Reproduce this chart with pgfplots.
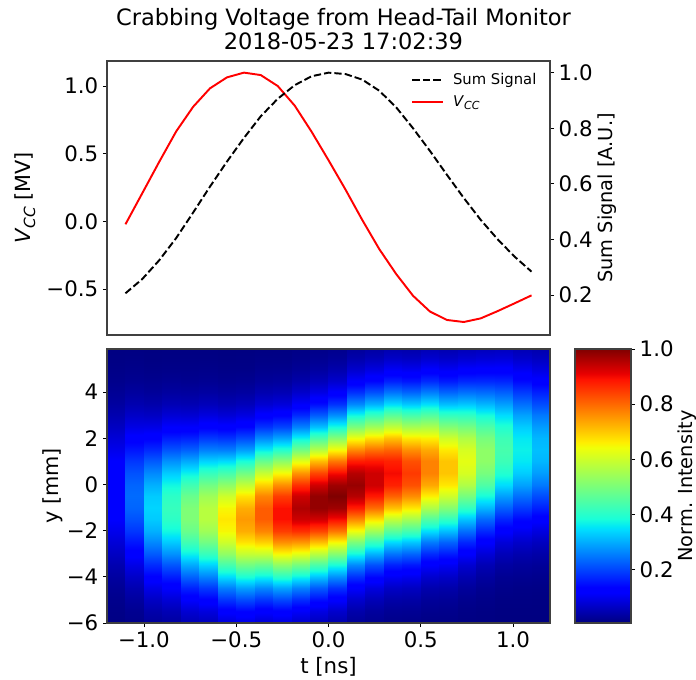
\documentclass[border=0pt]{standalone}
\usepackage{fontspec}
\setmainfont{DejaVu Sans}
\usepackage{pgfplots}
\pgfplotsset{compat=1.18}
\pgfplotsset{colormap={mjet}{rgb(0pt)=(0,0,.5); rgb(11pt)=(0,0,1); rgb(13pt)=(0,0,1); rgb(34pt)=(0,.86,1); rgb(35pt)=(0,.9,.97); rgb(38pt)=(.1,1,.85); rgb(64pt)=(.94,1,.03); rgb(66pt)=(1,.93,0); rgb(89pt)=(1,.07,0); rgb(91pt)=(.91,0,0); rgb(100pt)=(.5,0,0)}}
\newcommand\heatcol[3]{%
  \gdef\crd{}%
  \foreach \v [count=\k from 0] in {#3} {%
    \pgfmathsetmacro\yy{-6+0.5*\k}%
    \xdef\crd{\crd (#1,\yy) [\v] (#2,\yy) [\v] }%
  }%
  \edef\tmp{\noexpand\addplot[surf,shader=interp,mesh/cols=2,point meta=explicit,forget plot] coordinates {\crd};}\tmp
}
\newcommand\Vcc[1]{\textit{V}\raisebox{-0.22em}{\fontsize{#1}{#1}\selectfont\textit{CC}}}
\pgfplotsset{common/.style={scale only axis,width=332.25pt,height=205.5pt,
  tick style={black,line width=.6pt},major tick length=3pt,axis line style={black!75,line width=.8pt},
  every tick label/.append style={font=\fontsize{16}{18}\selectfont},
  xlabel style={font=\fontsize{16}{18}\selectfont},clip=true,
  tick align=outside}}
\begin{document}
\begin{tikzpicture}
\path[use as bounding box] (0,0) rectangle (522pt,509.25pt);
\node[align=center,font=\fontsize{16.9}{18}\selectfont] at (257.6pt,487.5pt) {Crabbing Voltage from Head-Tail Monitor\\2018-05-23 17:02:39};
% top axis, left scale
\begin{axis}[common,at={(80.25pt,258pt)},anchor=south west,
  xmin=-1.2,xmax=1.2,ymin=-0.84,ymax=1.185,xtick=\empty,
  ytick={-0.5,0,0.5,1},yticklabels={−0.5,0.0,0.5,1.0},ytick pos=left,
  ylabel={\Vcc{11.5} [MV]},
  every axis y label/.style={at={(axis description cs:-0.185,0.5)},rotate=90,anchor=center,font=\fontsize{15.6}{16}\selectfont}]
\addplot[red,line width=1.45pt] coordinates {
(-1.1,-0.022) (-1.008,0.21) (-0.917,0.44) (-0.825,0.665) (-0.733,0.847) (-0.642,0.983) (-0.55,1.064) (-0.458,1.099) (-0.367,1.081) (-0.275,1.0) (-0.183,0.855) (-0.092,0.663) (0,0.452) (0.092,0.235) (0.183,0.010) (0.275,-0.205) (0.367,-0.39) (0.458,-0.55) (0.55,-0.667) (0.642,-0.729) (0.733,-0.744) (0.825,-0.717) (0.917,-0.663) (1.008,-0.606) (1.1,-0.547)};
\end{axis}
% top axis, right scale
\begin{axis}[common,at={(80.25pt,258pt)},anchor=south west,
  xmin=-1.2,xmax=1.2,ymin=0.056,ymax=1.042,xtick=\empty,
  ytick={0.2,0.4,0.6,0.8,1},yticklabels={0.2,0.4,0.6,0.8,1.0},ytick pos=right,yticklabel pos=right,
  ylabel={Sum Signal [A.U.]},
  every axis y label/.style={at={(axis description cs:1.128,0.5)},rotate=90,anchor=center,font=\fontsize{14.5}{15}\selectfont},
  legend style={draw=none,fill=none,at={(0.985,0.975)},anchor=north east,font=\fontsize{11.1}{13}\selectfont,row sep=2.4pt,
    /tikz/every odd column/.append style={column sep=4.5pt}},
  legend image code/.code={\draw[#1] (0pt,0pt) -- (23.25pt,0pt);},
  legend cell align=left]
\addplot[black,line width=1.45pt,dash pattern=on 5.5pt off 2.3pt] coordinates {
(-1.1,0.206) (-1.008,0.258) (-0.917,0.325) (-0.825,0.405) (-0.733,0.497) (-0.642,0.590) (-0.55,0.680) (-0.458,0.765) (-0.367,0.843) (-0.275,0.906) (-0.183,0.955) (-0.092,0.987) (0,1.0) (0.092,0.995) (0.183,0.975) (0.275,0.935) (0.367,0.875) (0.458,0.8) (0.55,0.718) (0.642,0.632) (0.733,0.549) (0.825,0.470) (0.917,0.4) (1.008,0.338) (1.1,0.284)};
\addlegendentry{Sum Signal}
\addlegendimage{red,line width=1.45pt}
\addlegendentry{\Vcc{8.3}}
\end{axis}
% heat map
\begin{axis}[common,at={(80.25pt,42pt)},anchor=south west,colormap name=mjet,
  point meta min=0.01,point meta max=1,
  xmin=-1.2,xmax=1.2,ymin=-6,ymax=5.87,
  xtick={-1,-0.5,0,0.5,1},xticklabels={−1.0,−0.5,0.0,0.5,1.0},
  ytick={-6,-4,-2,0,2,4},yticklabels={−6,−4,−2,0,2,4},ytick pos=left,xtick pos=bottom,
  xlabel={t [ns]},ylabel={y [mm]},
  every axis y label/.style={at={(axis description cs:-0.122,0.5)},rotate=90,anchor=center,font=\fontsize{15.6}{16}\selectfont},
  axis on top]
\heatcol{-1.2}{-1.1}{.014,.017,.021,.028,.038,.051,.067,.085,.103,.120,.132,.139,.139,.132,.120,.103,.085,.067,.051,.038,.028,.021,.017,.014,.012}
\heatcol{-1.1}{-1.0}{.019,.025,.036,.051,.071,.097,.127,.159,.190,.216,.234,.240,.234,.216,.190,.159,.127,.097,.071,.051,.036,.025,.019,.015,.012}
\heatcol{-1.0}{-0.9}{.032,.047,.068,.098,.135,.178,.224,.269,.306,.331,.340,.331,.306,.269,.224,.178,.135,.098,.068,.047,.032,.023,.017,.013,.012}
\heatcol{-0.9}{-0.8}{.037,.056,.083,.119,.165,.219,.276,.331,.378,.409,.420,.409,.378,.331,.276,.219,.165,.119,.083,.056,.037,.026,.018,.014,.012}
\heatcol{-0.8}{-0.7}{.054,.081,.119,.170,.231,.299,.369,.433,.481,.507,.507,.481,.433,.369,.299,.231,.170,.119,.081,.054,.036,.024,.018,.014,.012}
\heatcol{-0.7}{-0.6}{.060,.091,.134,.192,.261,.339,.419,.492,.546,.576,.576,.546,.492,.419,.339,.261,.192,.134,.091,.060,.039,.026,.019,.014,.012}
\heatcol{-0.6}{-0.5}{.084,.127,.186,.259,.346,.438,.527,.602,.652,.670,.652,.602,.527,.438,.346,.259,.186,.127,.084,.054,.035,.023,.017,.013,.011}
\heatcol{-0.5}{-0.4}{.093,.141,.207,.290,.387,.490,.590,.674,.730,.750,.730,.674,.590,.490,.387,.290,.207,.141,.093,.060,.038,.025,.017,.014,.011}
\heatcol{-0.4}{-0.3}{.080,.125,.187,.268,.367,.478,.592,.694,.772,.814,.814,.772,.694,.592,.478,.367,.268,.187,.125,.080,.051,.033,.022,.016,.012}
\heatcol{-0.3}{-0.2}{.087,.136,.204,.294,.402,.524,.649,.762,.847,.894,.894,.847,.762,.649,.524,.402,.294,.204,.136,.087,.055,.035,.023,.016,.013}
\heatcol{-0.2}{-0.1}{.074,.116,.178,.263,.369,.494,.627,.755,.862,.934,.960,.934,.862,.755,.627,.494,.369,.263,.178,.116,.074,.046,.029,.020,.015}
\heatcol{-0.1}{0.0}{.060,.095,.149,.224,.323,.442,.576,.714,.838,.932,.983,.983,.932,.838,.714,.576,.442,.323,.224,.149,.095,.060,.037,.025,.017}
\heatcol{0.0}{0.1}{.048,.076,.121,.185,.273,.384,.514,.653,.786,.898,.973,1.0,.973,.898,.786,.653,.514,.384,.273,.185,.121,.076,.048,.030,.020}
\heatcol{0.1}{0.2}{.029,.047,.075,.119,.182,.268,.377,.504,.640,.770,.880,.954,.980,.954,.880,.770,.640,.504,.377,.268,.182,.119,.075,.047,.029}
\heatcol{0.2}{0.3}{.024,.036,.057,.091,.142,.213,.307,.420,.548,.678,.796,.885,.933,.933,.885,.796,.678,.548,.420,.307,.213,.142,.091,.057,.036}
\heatcol{0.3}{0.4}{.019,.028,.044,.070,.110,.168,.247,.346,.463,.588,.708,.808,.876,.900,.876,.808,.708,.588,.463,.346,.247,.168,.110,.070,.044}
\heatcol{0.4}{0.5}{.018,.027,.042,.066,.104,.159,.233,.328,.438,.555,.669,.763,.827,.850,.827,.763,.669,.555,.438,.328,.233,.159,.104,.066,.042}
\heatcol{0.5}{0.6}{.015,.022,.032,.049,.077,.119,.178,.256,.350,.455,.563,.661,.735,.775,.775,.735,.661,.563,.455,.350,.256,.178,.119,.077,.049}
\heatcol{0.6}{0.7}{.015,.021,.030,.046,.071,.109,.163,.233,.319,.415,.513,.602,.669,.705,.705,.669,.602,.513,.415,.319,.233,.163,.109,.071,.046}
\heatcol{0.7}{0.8}{.013,.016,.022,.034,.052,.079,.120,.175,.244,.326,.412,.496,.566,.613,.630,.613,.566,.496,.412,.326,.244,.175,.120,.079,.052}
\heatcol{0.8}{0.9}{.012,.014,.018,.025,.037,.055,.084,.123,.176,.239,.311,.383,.449,.499,.526,.526,.499,.449,.383,.311,.239,.176,.123,.084,.055}
\heatcol{0.9}{1.0}{.011,.012,.014,.019,.026,.039,.058,.086,.124,.173,.229,.289,.347,.396,.428,.440,.428,.396,.347,.289,.229,.173,.124,.086,.058}
\heatcol{1.0}{1.1}{.011,.012,.014,.017,.024,.034,.050,.074,.106,.146,.193,.244,.292,.333,.360,.370,.360,.333,.292,.244,.193,.146,.106,.074,.050}
\heatcol{1.1}{1.2}{.011,.012,.013,.016,.022,.031,.045,.065,.092,.127,.168,.211,.253,.288,.312,.320,.312,.288,.253,.211,.168,.127,.092,.065,.045}
\end{axis}
% colour bar
\begin{axis}[common,at={(431.25pt,42pt)},anchor=south west,width=42pt,colormap name=mjet,
  point meta min=0.01,point meta max=1,
  xmin=0,xmax=1,ymin=0.007,ymax=1,xtick=\empty,
  ytick={0.2,0.4,0.6,0.8,1},yticklabels={0.2,0.4,0.6,0.8,1.0},ytick pos=right,yticklabel pos=right,
  ylabel={Norm. Intensity},
  every axis y label/.style={at={(axis description cs:2.0,0.5)},rotate=90,anchor=center,font=\fontsize{14.5}{15}\selectfont},
  axis on top]
\addplot[surf,shader=interp,mesh/cols=2,point meta=explicit,forget plot] coordinates {(0,0.007) [0.01] (1,0.007) [0.01] (0,1) [1] (1,1) [1]};
\end{axis}
\end{tikzpicture}
\end{document}
